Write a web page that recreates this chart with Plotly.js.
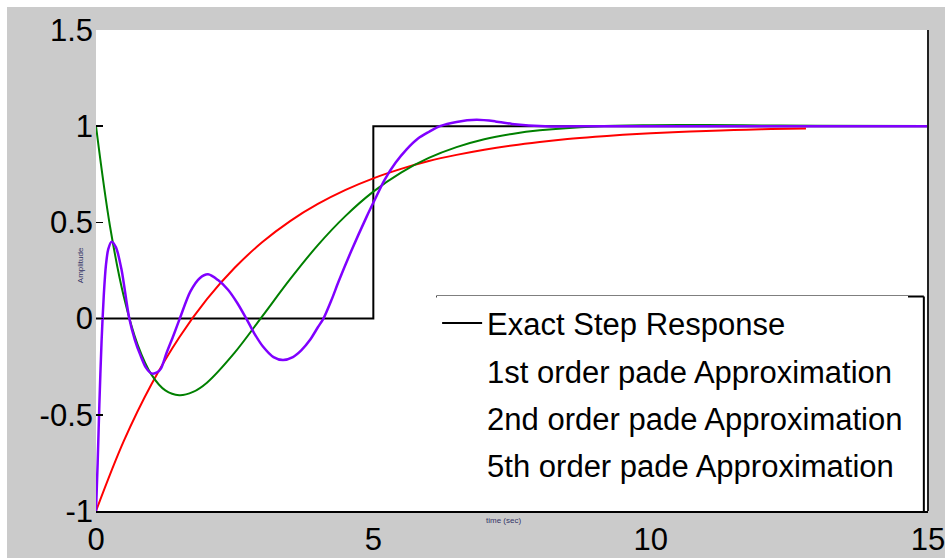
<!DOCTYPE html>
<html>
<head>
<meta charset="utf-8">
<script src="https://cdn.plot.ly/plotly-3.0.1.min.js"></script>
<style>
html,body{margin:0;padding:0;background:#ffffff;}
#chart{position:absolute;left:7px;top:7px;width:938px;height:551px;}
</style>
</head>
<body>
<div id="chart"></div>
<script>
// Exact step response (delay of 5 s)
const exactT = [0, 5, 5, 15];
const exactY = [0, 0, 1, 1];

// 1st order Pade approximation
const pade1T = [0, 0.5, 1, 1.5, 2, 2.5, 3, 3.5, 4, 4.5, 5, 5.5, 6, 6.5, 7, 7.5, 8, 8.5, 9, 9.5, 10, 10.5, 11, 11.5, 12, 12.5, 12.8];
const pade1Y = [-1, -0.637, -0.341, -0.098, 0.101, 0.264, 0.398, 0.507, 0.596, 0.669, 0.729, 0.778, 0.819, 0.851, 0.878, 0.900, 0.918, 0.933, 0.945, 0.955, 0.963, 0.970, 0.975, 0.980, 0.984, 0.987, 0.988];

// 2nd order Pade approximation
const pade2T = [0, 0.25, 0.5, 0.75, 1, 1.25, 1.5, 1.75, 2, 2.5, 3, 3.5, 4, 4.5, 5, 5.5, 6, 6.5, 7, 7.5, 8, 9, 10, 11, 12, 13, 15];
const pade2Y = [1, 0.484, 0.116, -0.135, -0.291, -0.373, -0.398, -0.381, -0.333, -0.177, 0.013, 0.205, 0.382, 0.534, 0.660, 0.759, 0.835, 0.891, 0.932, 0.960, 0.979, 0.999, 1.005, 1.006, 1.004, 1.002, 1.001];

// 5th order Pade approximation
const pade5T = [0, 0.03, 0.06, 0.1, 0.14, 0.18, 0.22, 0.28, 0.36, 0.46, 0.6, 0.7, 0.8, 0.9, 1.0, 1.1, 1.17, 1.27, 1.4, 1.51, 1.7, 1.87, 2.02, 2.2, 2.38, 2.55, 2.71, 2.85, 3.01, 3.2, 3.37, 3.55, 3.7, 3.86, 4.0, 4.1, 4.25, 4.37, 4.6, 4.88, 5.03, 5.2, 5.4, 5.6, 5.8, 6.0, 6.2, 6.5, 6.86, 7.2, 7.5, 7.8, 8.2, 9, 10, 15];
const pade5Y = [-1, -0.75, -0.45, -0.12, 0.12, 0.28, 0.36, 0.40, 0.37, 0.255, 0.0, -0.11, -0.19, -0.255, -0.285, -0.28, -0.26, -0.18, -0.085, 0.0, 0.14, 0.21, 0.23, 0.20, 0.15, 0.08, 0.0, -0.075, -0.145, -0.20, -0.215, -0.20, -0.165, -0.11, -0.045, 0.0, 0.10, 0.19, 0.35, 0.53, 0.62, 0.72, 0.81, 0.88, 0.935, 0.97, 1.0, 1.022, 1.033, 1.025, 1.012, 1.004, 0.999, 1.0, 1.0, 1.0];

// Legend labels and axis tick labels
const legendNames = ["Exact Step Response", "1st order pade Approximation", "2nd order pade Approximation", "5th order pade Approximation"];
const xTicks = [0, 5, 10, 15];
const yTicks = [-1, -0.5, 0, 0.5, 1, 1.5];
const yTickText = ["-1", "-0.5", "0", "0.5", "1", "1.5"];
const xLabel = "time (sec)";
const yLabel = "Amplitude";

const traces = [
  {x: exactT, y: exactY, mode: 'lines', name: legendNames[0], legendgroup: 'g0', line: {color: '#000000', width: 2}, showlegend: true},
  {x: pade1T, y: pade1Y, mode: 'lines', name: legendNames[1], line: {color: '#ff0000', width: 2, shape: 'spline'}, showlegend: false},
  {x: pade2T, y: pade2Y, mode: 'lines', name: legendNames[2], line: {color: '#008000', width: 2, shape: 'spline'}, showlegend: false},
  {x: pade5T, y: pade5Y, mode: 'lines', name: legendNames[3], line: {color: '#8000ff', width: 2.5, shape: 'spline', smoothing: 0.8}, showlegend: false},
  {x: [null], y: [null], mode: 'lines', name: legendNames[1], legendgroup: 'g1', line: {color: 'rgba(0,0,0,0)', width: 2}, showlegend: true, hoverinfo: 'skip'},
  {x: [null], y: [null], mode: 'lines', name: legendNames[2], legendgroup: 'g2', line: {color: 'rgba(0,0,0,0)', width: 2}, showlegend: true, hoverinfo: 'skip'},
  {x: [null], y: [null], mode: 'lines', name: legendNames[3], legendgroup: 'g3', line: {color: 'rgba(0,0,0,0)', width: 2}, showlegend: true, hoverinfo: 'skip'}
];

const layout = {
  width: 938, height: 551,
  margin: {l: 89, r: 17, t: 23, b: 47, pad: 0},
  paper_bgcolor: '#cbcbcb',
  plot_bgcolor: '#ffffff',
  font: {family: 'Liberation Sans, Arial, sans-serif', color: '#000000'},
  showlegend: true,
  legend: {
    x: 0.41, y: 0.446, xanchor: 'left', yanchor: 'top',
    bgcolor: '#ffffff', borderwidth: 0,
    font: {size: 31, family: 'Liberation Sans, Arial, sans-serif', color: '#000000'},
    itemwidth: 40, traceorder: 'grouped', tracegroupgap: 4
  },
  xaxis: {
    range: [0, 15], tickvals: xTicks, ticktext: xTicks.map(String),
    showgrid: false, zeroline: false, showline: true, linecolor: '#000000', linewidth: 2,
    ticks: '', tickfont: {size: 31}, fixedrange: true, ticklabeloverflow: 'allow'
  },
  yaxis: {
    range: [-1, 1.5], tickvals: yTicks, ticktext: yTickText,
    showgrid: false, zeroline: false, showline: false,
    ticks: 'inside', ticklen: 7, tickwidth: 1.5, tickcolor: '#000000',
    tickfont: {size: 31}, fixedrange: true, ticklabelstandoff: 2
  },
  annotations: [
    {text: xLabel, xref: 'paper', yref: 'paper', x: 0.49, y: 0, yshift: -16, showarrow: false,
     font: {size: 8, color: '#333366'}},
    {text: yLabel, xref: 'paper', yref: 'paper', x: 0, xshift: -22, y: 0.51, showarrow: false, textangle: -90,
     font: {size: 8, color: '#333366'}}
  ],
  shapes: [
    {type: 'line', xref: 'paper', yref: 'paper', x0: 1, x1: 1, y0: 0, y1: 1, line: {color: '#222222', width: 2}},
    {type: 'line', xref: 'paper', yref: 'paper', x0: 0.409, x1: 0.995, y0: 0.446, y1: 0.446, line: {color: '#000000', width: 2}},
    {type: 'line', xref: 'paper', yref: 'paper', x0: 0.995, x1: 0.995, y0: 0.446, y1: 0.0, line: {color: '#000000', width: 2}}
  ]
};

Plotly.newPlot('chart', traces, layout, {displayModeBar: false, staticPlot: true});
</script>
</body>
</html>
